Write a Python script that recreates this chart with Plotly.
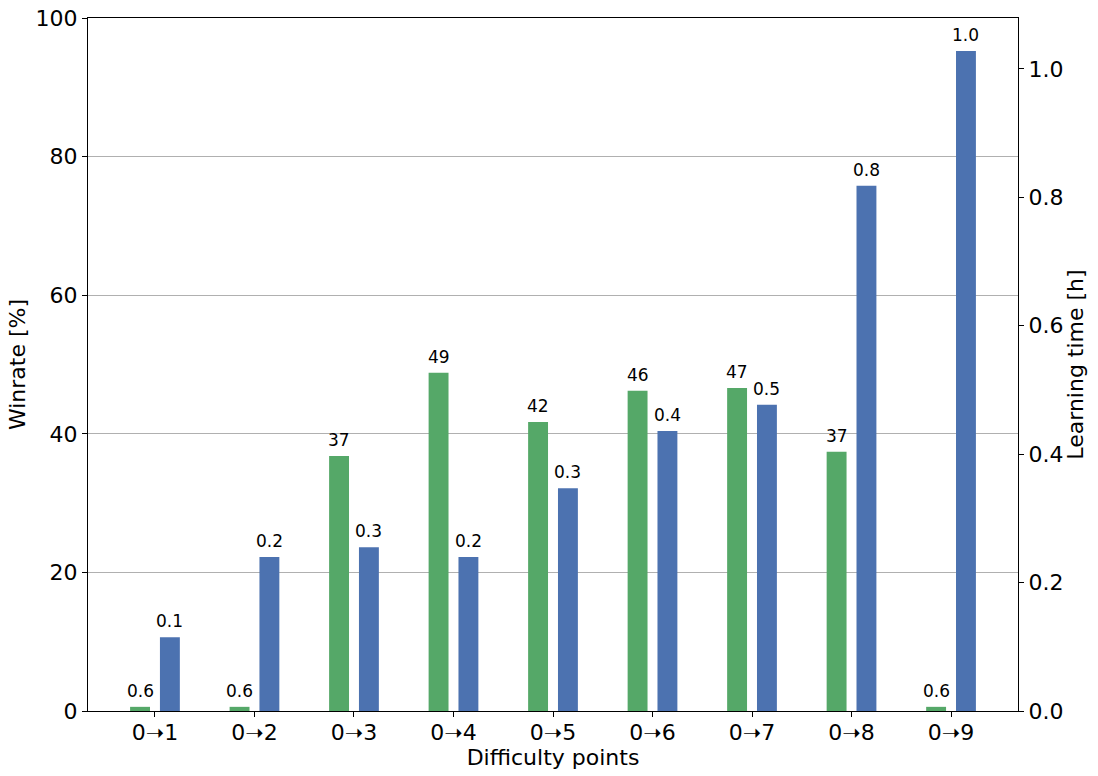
import plotly.graph_objects as go

categories = ["0➝1", "0➝2", "0➝3", "0➝4", "0➝5", "0➝6", "0➝7", "0➝8", "0➝9"]
winrate = [0.6, 0.6, 36.8, 48.8, 41.7, 46.2, 46.6, 37.4, 0.6]
learning_time = [0.115, 0.240, 0.255, 0.240, 0.347, 0.436, 0.477, 0.818, 1.028]

GREEN = "#55a868"
BLUE = "#4c72b0"
FONT = "DejaVu Sans"
BAR_W = 0.2
GREEN_OFF = -0.25
BLUE_OFF = 0.05

xpos = list(range(len(categories)))
win_text = [f"{v:.0f}" if v >= 1 else f"{v:.1f}" for v in winrate]
lt_text = [f"{v:.1f}" for v in learning_time]

fig = go.Figure()
fig.add_trace(go.Bar(
    x=xpos, y=winrate, width=BAR_W, offset=GREEN_OFF, marker_color=GREEN,
    marker_line_width=0, yaxis="y", showlegend=False,
))
fig.add_trace(go.Bar(
    x=xpos, y=learning_time, width=BAR_W, offset=BLUE_OFF, marker_color=BLUE,
    marker_line_width=0, yaxis="y2", showlegend=False,
))

annotations = []
for x, v, t in zip(xpos, winrate, win_text):
    annotations.append(dict(x=x + GREEN_OFF + BAR_W / 2, y=v, xref="x", yref="y",
                            text=t, showarrow=False, yanchor="bottom", yshift=4,
                            font=dict(family=FONT, size=17, color="black")))
for x, v, t in zip(xpos, learning_time, lt_text):
    annotations.append(dict(x=x + BLUE_OFF + BAR_W / 2, y=v, xref="x", yref="y2",
                            text=t, showarrow=False, yanchor="bottom", yshift=4,
                            font=dict(family=FONT, size=17, color="black")))

fig.update_layout(
    width=1098, height=776,
    margin=dict(l=88, r=80, t=18, b=65),
    plot_bgcolor="white", paper_bgcolor="white",
    barmode="overlay",
    font=dict(family=FONT, color="black"),
    annotations=annotations,
    xaxis=dict(
        range=[-0.673, 8.673], tickvals=xpos, ticktext=categories,
        tickfont=dict(size=22), ticks="outside", ticklen=5, tickcolor="black",
        ticklabelstandoff=-3,
        showline=True, linecolor="black", linewidth=1, mirror=True,
        showgrid=False, zeroline=False, automargin=False,
        title=dict(text="Difficulty points", font=dict(size=22), standoff=0),
    ),
    yaxis=dict(
        range=[0, 100], tickvals=[0, 20, 40, 60, 80, 100],
        tickfont=dict(size=22), ticks="outside", ticklen=5, tickcolor="black",
        showline=True, linecolor="black", linewidth=1,
        showgrid=True, gridcolor="#b0b0b0", gridwidth=1, zeroline=False,
        automargin=False,
        title=dict(text="Winrate [%]", font=dict(size=22), standoff=3),
    ),
    yaxis2=dict(
        range=[0, 1.0794], tickvals=[0, 0.2, 0.4, 0.6, 0.8, 1.0],
        tickformat=".1f", overlaying="y", side="right",
        tickfont=dict(size=22), ticks="outside", ticklen=5, tickcolor="black",
        showline=True, linecolor="black", linewidth=1,
        showgrid=False, zeroline=False, automargin=False,
        title=dict(text="Learning time [h]", font=dict(size=22), standoff=4),
    ),
)

fig.write_html("out.html", config={"displayModeBar": False},
               post_script="document.body.style.margin='0px';document.body.style.overflow='hidden';")
